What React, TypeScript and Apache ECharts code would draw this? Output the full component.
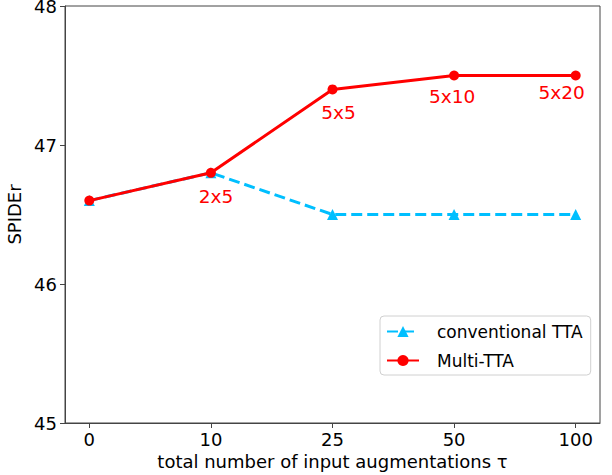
import React, { useEffect, useRef } from "react";
import * as echarts from "echarts";

const categories = ["0", "10", "25", "50", "100"];
const conventionalTTA = [46.6, 46.8, 46.5, 46.5, 46.5];
const multiTTA = [46.6, 46.8, 47.4, 47.5, 47.5];
const multiLabels = ["", "2x5", "5x5", "5x10", "5x20"];
const labelOffsets: [number, number][] = [[0, 0], [5, 24], [6, 23], [-2, 21], [-14, 17]];
const yTicks = [45, 46, 47, 48];

const FONT = "DejaVu Sans";

export default function App() {
  const ref = useRef<HTMLDivElement>(null);
  useEffect(() => {
    if (!ref.current) return;
    const chart = echarts.init(ref.current, undefined, { renderer: "svg" });
    const idx = categories.map((_, i) => i);
    chart.setOption({
      animation: false,
      backgroundColor: "#ffffff",
      grid: {
        left: 65,
        right: 12,
        top: 6,
        bottom: 52,
        show: true,
        borderColor: "#444",
        borderWidth: 1,
        backgroundColor: "transparent",
        containLabel: false,
        outerBoundsMode: "none",
      },
      xAxis: {
        type: "value",
        min: -0.2,
        max: 4.2,
        name: "total number of input augmentations τ",
        nameLocation: "middle",
        nameGap: 28,
        nameTextStyle: { fontFamily: FONT, fontSize: 18, color: "#000" },
        axisLine: { show: true, onZero: false, lineStyle: { color: "#444", width: 1 } },
        axisTick: { show: true, length: 5, inside: false, customValues: idx, lineStyle: { color: "#444" } },
        axisLabel: {
          customValues: idx,
          margin: 7,
          fontFamily: FONT,
          fontSize: 18,
          color: "#000",
          formatter: (v: number) => categories[Math.round(v)] ?? "",
        },
        splitLine: { show: false },
      },
      yAxis: {
        type: "value",
        min: 45,
        max: 48,
        interval: 1,
        name: "SPIDEr",
        nameLocation: "middle",
        nameRotate: 90,
        nameGap: 35,
        nameTextStyle: { fontFamily: FONT, fontSize: 18, color: "#000" },
        axisLine: { show: true, onZero: false, lineStyle: { color: "#444", width: 1 } },
        axisTick: { show: true, length: 5, customValues: yTicks, lineStyle: { color: "#444" } },
        axisLabel: {
          customValues: yTicks,
          margin: 8,
          fontFamily: FONT,
          fontSize: 18,
          lineHeight: 12,
          color: "#000",
        },
        splitLine: { show: false },
      },
      legend: {
        orient: "vertical",
        left: 380,
        top: 316,
        width: 199,
        padding: [7, 8, 6, 6],
        itemWidth: 32,
        itemHeight: 14,
        itemGap: 12,
        borderColor: "#d0d0d0",
        borderWidth: 1,
        borderRadius: 4,
        backgroundColor: "#fff",
        textStyle: { fontFamily: FONT, fontSize: 17, color: "#000", padding: [0, 0, 0, 13] },
        data: ["conventional TTA", "Multi-TTA"],
      },
      series: [
        {
          name: "conventional TTA",
          type: "line",
          data: conventionalTTA.map((v, i) => [i, v]),
          symbol: "triangle",
          symbolSize: 11,
          color: "#00BFFF",
          itemStyle: { color: "#00BFFF" },
          lineStyle: { color: "#00BFFF", width: 3, type: [11, 5] },
          z: 2,
        },
        {
          name: "Multi-TTA",
          type: "line",
          data: multiTTA.map((v, i) => ({
            value: [i, v],
            label: multiLabels[i]
              ? {
                  show: true,
                  formatter: multiLabels[i],
                  position: "inside",
                  offset: labelOffsets[i],
                  align: "center",
                  verticalAlign: "middle",
                  fontFamily: FONT,
                  fontSize: 18.5,
                  color: "#FF0000",
                }
              : { show: false },
          })),
          symbol: "circle",
          symbolSize: 10,
          color: "#FF0000",
          itemStyle: { color: "#FF0000" },
          lineStyle: { color: "#FF0000", width: 3 },
          z: 3,
        },
      ],
    });
    return () => chart.dispose();
  }, []);
  return (
    <div
      ref={ref}
      style={{ position: "fixed", left: 0, top: 0, width: 612, height: 475 }}
    />
  );
}
